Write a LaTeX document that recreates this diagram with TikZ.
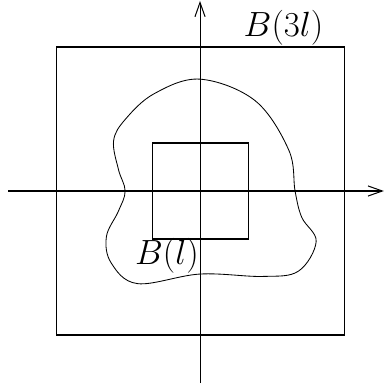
\documentclass[tikz,border=0pt]{standalone}
\usetikzlibrary{arrows.meta}

\begin{document}
\begin{tikzpicture}[
  line width=0.6pt,
  axis/.style={-{Straight Barb[length=8.5pt,width=6pt,line width=0.6pt]}},
  box/.style={draw},
  region/.style={draw, line width=0.5pt},
  lbl/.style={font=\fontsize{19.5}{22}\selectfont, inner sep=0pt},
]
\useasboundingbox (-4.167,-4.0625) rectangle (3.854,3.979);

% Axes
\coordinate (xl) at (-4,0);
\coordinate (xr) at (3.83,0);
\coordinate (yb) at (0,-4);
\coordinate (yt) at (0,3.96);
\draw[axis] (xl) -- (xr);
\draw[axis] (yb) -- (yt);

% Boxes
\draw[box] (-3,-3) rectangle (3,3);
\draw[box] (-1,-1) rectangle (1,1);

% Region
\draw[region] plot[smooth cycle, tension=0.6] coordinates {
  (0,2.33) (1.15,1.88) (1.85,0.85) (1.98,0) (2.12,-0.55) (2.42,-1.05)
  (2.05,-1.67) (1.3,-1.78) (0,-1.73) (-1.3,-1.93) (-1.85,-1.5)
  (-1.95,-0.95) (-1.7,-0.42) (-1.56,0) (-1.7,0.45) (-1.8,1.05)
  (-1.55,1.5) (-0.95,2.03)};

% Labels
\node[lbl] (big) at (1.74,3.4) {$B(3l)$};
\node[lbl] (small) at (-0.69,-1.35) {$B(l)$};

\end{tikzpicture}
\end{document}
